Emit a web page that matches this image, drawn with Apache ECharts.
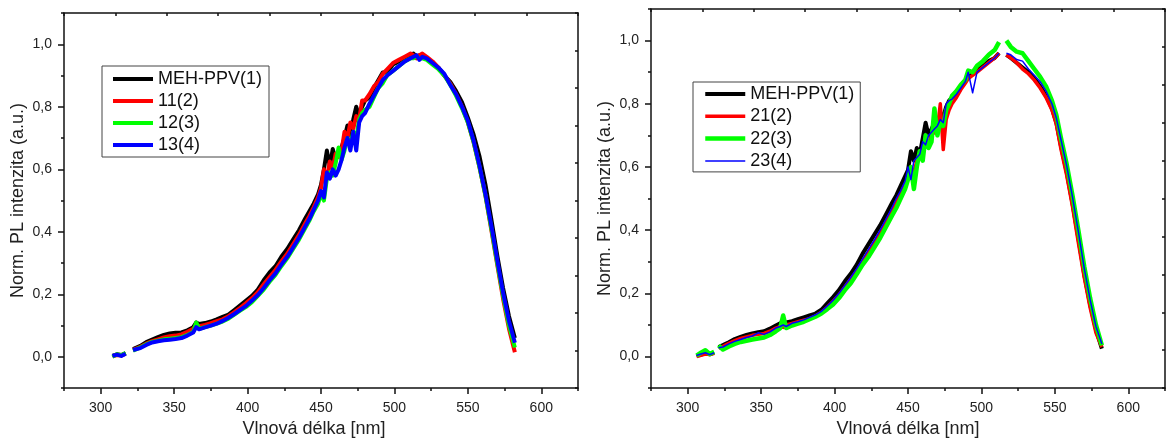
<!DOCTYPE html>
<html>
<head>
<meta charset="utf-8">
<script src="https://cdn.jsdelivr.net/npm/echarts@6/dist/echarts.min.js"></script>
<style>
html,body{margin:0;padding:0;background:#fff;}
#c{width:1168px;height:443px;}
</style>
</head>
<body>
<div id="c"></div>
<script>
// ---------- Left panel ----------
const L_WL = [
  308, 311, 314, 317, 319,
  322, 327, 331, 335, 339, 343, 347, 351, 355, 359,
  363, 365, 367, 371, 375, 379, 383, 387, 391, 395, 399,
  403, 407, 411, 415, 419, 423, 427, 431, 435, 439,
  442, 445, 448, 450, 452, 454, 456, 458, 460, 462,
  464, 466, 468, 470, 472, 474, 476, 478, 480,
  483, 486, 489, 492, 495, 499, 503, 507, 511,
  513, 515, 517, 519, 522, 526, 530, 534, 538,
  542, 546, 550, 554, 558, 562, 566, 570, 574, 578, 582
];
const L_MEH = [
  0.003, 0.008, 0.006, 0.012, null,
  0.025, 0.035, 0.047, 0.055, 0.063, 0.07, 0.075, 0.077, 0.078, 0.085,
  0.095, 0.11, 0.105, 0.108, 0.113, 0.12, 0.128, 0.135, 0.15, 0.165, 0.18,
  0.195, 0.215, 0.245, 0.27, 0.29, 0.32, 0.345, 0.375, 0.405, 0.44,
  0.465, 0.49, 0.52, 0.55, 0.6, 0.66, 0.61, 0.665, 0.63, 0.65,
  0.67, 0.7, 0.74, 0.71, 0.76, 0.8, 0.77, 0.8, 0.82,
  0.83, 0.86, 0.885, 0.91, 0.91, 0.935, 0.945, 0.955, 0.965,
  0.97, 0.96, 0.965, 0.963, 0.955, 0.94, 0.925, 0.9, 0.88,
  0.85, 0.815, 0.765, 0.71, 0.64, 0.55, 0.44, 0.325, 0.22, 0.13, 0.06
];
const L_11 = [
  0.002, 0.006, 0.004, 0.01, null,
  0.022, 0.032, 0.042, 0.05, 0.056, 0.062, 0.066, 0.068, 0.072, 0.08,
  0.09, 0.1, 0.098, 0.102, 0.108, 0.114, 0.12, 0.13, 0.143, 0.157, 0.172,
  0.188, 0.207, 0.232, 0.255, 0.278, 0.305, 0.33, 0.36, 0.39, 0.425,
  0.45, 0.478, 0.51, 0.54, 0.6, 0.57, 0.625, 0.6, 0.65, 0.64,
  0.66, 0.72, 0.7, 0.75, 0.73, 0.77, 0.76, 0.82, 0.82,
  0.84, 0.865, 0.88, 0.905, 0.92, 0.94, 0.95, 0.96, 0.97,
  0.965, 0.955, 0.965, 0.97, 0.96, 0.945, 0.925, 0.9, 0.875,
  0.84, 0.8, 0.75, 0.685, 0.605, 0.515, 0.405, 0.295, 0.185, 0.09, 0.015
];
const L_12 = [
  0.0, 0.008, 0.005, 0.012, null,
  0.02, 0.03, 0.04, 0.048, 0.052, 0.056, 0.058, 0.06, 0.063, 0.07,
  0.08, 0.11, 0.09, 0.095, 0.1, 0.106, 0.113, 0.122, 0.135, 0.148, 0.16,
  0.175, 0.195, 0.215, 0.24, 0.262, 0.29, 0.315, 0.345, 0.375, 0.41,
  0.435, 0.465, 0.49, 0.52, 0.5, 0.57, 0.59, 0.58, 0.62, 0.67,
  0.63, 0.66, 0.7, 0.68, 0.72, 0.7, 0.76, 0.78, 0.79,
  0.8, 0.83, 0.86, 0.875, 0.9, 0.915, 0.93, 0.945, 0.955,
  0.955, 0.96, 0.955, 0.955, 0.95, 0.935, 0.92, 0.9, 0.87,
  0.835, 0.795, 0.75, 0.685, 0.605, 0.515, 0.41, 0.3, 0.195, 0.1, 0.03
];
const L_13 = [
  0.003, 0.007, 0.003, 0.01, null,
  0.022, 0.028, 0.038, 0.046, 0.05, 0.053, 0.055, 0.057, 0.06, 0.068,
  0.078, 0.095, 0.088, 0.094, 0.1, 0.106, 0.115, 0.125, 0.137, 0.15, 0.163,
  0.18, 0.198, 0.22, 0.245, 0.267, 0.295, 0.32, 0.35, 0.38, 0.415,
  0.44, 0.47, 0.5, 0.53, 0.51, 0.59, 0.57, 0.6, 0.58, 0.6,
  0.63, 0.67, 0.7, 0.66, 0.72, 0.66, 0.75, 0.77, 0.78,
  0.81, 0.835, 0.86, 0.885, 0.9, 0.915, 0.93, 0.945, 0.955,
  0.96, 0.965, 0.95, 0.96, 0.955, 0.94, 0.925, 0.905, 0.87,
  0.84, 0.8, 0.755, 0.69, 0.61, 0.52, 0.42, 0.31, 0.205, 0.115, 0.045
];

// ---------- Right panel ----------
const R_WL = [
  306, 309, 312, 315, 318, 319.5,
  321, 324, 328, 332, 336, 340, 344, 348, 352, 356, 360,
  363, 365, 367, 371, 375, 379, 383, 387, 391, 395, 399,
  403, 407, 411, 415, 419, 423, 427, 431, 435, 439,
  442, 445, 448, 450, 452, 454, 456, 458, 460, 462,
  464, 466, 468, 470, 472, 474, 476, 478, 480,
  483, 486, 489, 491, 494, 497, 501, 505, 509, 512, 515,
  517, 520, 524, 528, 532, 536, 540, 544, 548,
  551, 554, 558, 562, 566, 570, 574, 578, 582
];
const R_MEH = [
  0.002, 0.006, 0.01, 0.007, 0.012, null,
  0.03, 0.036, 0.045, 0.055, 0.062, 0.068, 0.073, 0.077, 0.08, 0.088, 0.098,
  0.105, 0.1, 0.108, 0.112, 0.118, 0.124, 0.13, 0.136, 0.148, 0.168, 0.188,
  0.21, 0.238, 0.262, 0.29, 0.325, 0.355, 0.385, 0.415, 0.45, 0.485,
  0.51, 0.54, 0.57, 0.59, 0.65, 0.62, 0.66, 0.64, 0.69, 0.74,
  0.7, 0.72, 0.74, 0.72, 0.77, 0.76, 0.79, 0.81, 0.82,
  0.835, 0.855, 0.875, 0.885, 0.895, 0.905, 0.92, 0.935, 0.945, 0.96, null,
  0.955, 0.945, 0.93, 0.915, 0.9, 0.88, 0.855, 0.825, 0.785,
  0.74, 0.67, 0.585, 0.485, 0.375, 0.26, 0.165, 0.085, 0.025
];
const R_21 = [
  0.0, 0.004, 0.008, 0.006, 0.01, null,
  0.027, 0.032, 0.042, 0.05, 0.057, 0.062, 0.067, 0.07, 0.073, 0.08, 0.09,
  0.095, 0.092, 0.1, 0.105, 0.11, 0.115, 0.12, 0.128, 0.14, 0.156, 0.175,
  0.195, 0.22, 0.245, 0.27, 0.3, 0.33, 0.36, 0.39, 0.425, 0.46,
  0.485, 0.515, 0.545, 0.56, 0.6, 0.58, 0.62, 0.63, 0.66, 0.68,
  0.67, 0.7, 0.71, 0.72, 0.8, 0.655, 0.75, 0.78, 0.8,
  0.82, 0.845, 0.865, 0.88, 0.89, 0.9, 0.915, 0.93, 0.945, 0.96, null,
  0.955, 0.945, 0.93, 0.91, 0.895, 0.875, 0.85, 0.82, 0.78,
  0.735, 0.66, 0.575, 0.475, 0.36, 0.25, 0.155, 0.075, 0.03
];
const R_22 = [
  0.003, 0.012, 0.02, 0.008, 0.015, null,
  0.035, 0.022, 0.032, 0.04, 0.046, 0.05, 0.054, 0.057, 0.06, 0.068, 0.08,
  0.09, 0.13, 0.09, 0.098, 0.104, 0.11, 0.118, 0.126, 0.136, 0.15, 0.165,
  0.185, 0.21, 0.232, 0.26, 0.29, 0.315, 0.345, 0.375, 0.41, 0.445,
  0.47, 0.5, 0.53, 0.56, 0.6, 0.53, 0.6, 0.65, 0.62, 0.7,
  0.66, 0.68, 0.785, 0.7, 0.74, 0.73, 0.78, 0.8, 0.825,
  0.84, 0.86, 0.875, 0.905, 0.9, 0.92, 0.935, 0.955, 0.97, 0.995, null,
  1.0, 0.98, 0.965, 0.96, 0.935, 0.91, 0.885, 0.855, 0.81,
  0.765, 0.695, 0.61, 0.51, 0.4, 0.285, 0.185, 0.1, 0.035
];
const R_23 = [
  0.003, 0.008, 0.012, 0.006, 0.012, null,
  0.028, 0.03, 0.04, 0.048, 0.054, 0.06, 0.065, 0.075, 0.07, 0.078, 0.09,
  0.095, 0.1, 0.095, 0.105, 0.11, 0.116, 0.124, 0.132, 0.143, 0.16, 0.178,
  0.2, 0.225, 0.25, 0.278, 0.308, 0.338, 0.368, 0.4, 0.435, 0.47,
  0.5, 0.525, 0.555, 0.6, 0.56, 0.62, 0.63, 0.64, 0.68, 0.67,
  0.7, 0.71, 0.72, 0.73, 0.75, 0.74, 0.8, 0.81, 0.815,
  0.83, 0.85, 0.87, 0.9, 0.835, 0.9, 0.915, 0.93, 0.945, 0.96, null,
  0.96, 0.955, 0.94, 0.935, 0.91, 0.89, 0.87, 0.84, 0.8,
  0.755, 0.69, 0.605, 0.505, 0.395, 0.28, 0.18, 0.095, 0.04
];

const X_MAJOR = [300, 350, 400, 450, 500, 550, 600];
const Y_MAJOR = [0, 0.2, 0.4, 0.6, 0.8, 1.0];
const LEFT_NAMES = ['MEH-PPV(1)', '11(2)', '12(3)', '13(4)'];
const RIGHT_NAMES = ['MEH-PPV(1)', '21(2)', '22(3)', '23(4)'];
const COLORS = ['#000000', '#ff0000', '#00ff00', '#0000ff'];

const FONT = '"Liberation Sans", Arial, sans-serif';
const AX = '#111';

function pairs(wl, vals) {
  return wl.map((x, i) => [x, vals[i] === null ? '-' : vals[i]]);
}

function xAxes(grid, nameShift) {
  return [
    { gridIndex: grid, type: 'value', position: 'bottom', min: 275, max: 625, interval: 25,
      axisLine: { show: true, onZero: false, lineStyle: { color: AX, width: 1.5 } },
      axisTick: { show: true, length: 3, lineStyle: { color: AX, width: 1.5 } },
      splitLine: { show: false },
      axisLabel: { show: true, margin: 13, fontSize: 14, color: '#222', fontFamily: FONT,
        formatter: v => (Math.round(v) % 50 === 0 ? String(Math.round(v)) : '') },
      name: 'Vlnová délka [nm]', nameLocation: 'middle', nameGap: 30,
      nameTextStyle: { fontSize: 18, color: '#222', fontFamily: FONT, padding: [0, nameShift, 0, 0] } },
    { gridIndex: grid, type: 'value', position: 'bottom', min: 275, max: 625,
      axisLine: { show: false, onZero: false },
      axisTick: { show: true, length: 6, customValues: X_MAJOR, lineStyle: { color: AX, width: 1.5 } },
      splitLine: { show: false }, axisLabel: { show: false } },
    { gridIndex: grid, type: 'value', position: 'top', min: 0, max: 10, interval: 1,
      axisLine: { show: true, onZero: false, lineStyle: { color: AX, width: 1.5 } },
      axisTick: { show: true, inside: true, length: 3, lineStyle: { color: AX, width: 1.5 } },
      splitLine: { show: false }, axisLabel: { show: false } }
  ];
}

function yAxes(grid) {
  return [
    { gridIndex: grid, type: 'value', position: 'left', min: -0.1, max: 1.1, interval: 0.1,
      axisLine: { show: true, onZero: false, lineStyle: { color: AX, width: 1.5 } },
      axisTick: { show: true, length: 3, lineStyle: { color: AX, width: 1.5 } },
      splitLine: { show: false },
      axisLabel: { show: true, margin: 12, fontSize: 14, color: '#222', fontFamily: FONT,
        formatter: v => { const k = Math.round(v * 10); if (k < 0 || k % 2 !== 0) return ''; return (k / 10).toFixed(1).replace('.', ','); } },
      name: 'Norm. PL intenzita (a.u.)', nameLocation: 'middle', nameGap: 37,
      nameTextStyle: { fontSize: 18, color: '#222', fontFamily: FONT } },
    { gridIndex: grid, type: 'value', position: 'left', min: -0.1, max: 1.1,
      axisLine: { show: false, onZero: false },
      axisTick: { show: true, length: 6, customValues: Y_MAJOR, lineStyle: { color: AX, width: 1.5 } },
      splitLine: { show: false }, axisLabel: { show: false } },
    { gridIndex: grid, type: 'value', position: 'right', min: 0, max: 10, interval: 1,
      axisLine: { show: true, onZero: false, lineStyle: { color: AX, width: 1.5 } },
      axisTick: { show: true, inside: true, length: 3, lineStyle: { color: AX, width: 1.5 } },
      splitLine: { show: false }, axisLabel: { show: false } }
  ];
}

function mkSeries(names, wl, arrs, widths, xi, yi) {
  return names.map((n, i) => ({
    name: n, type: 'line', xAxisIndex: xi, yAxisIndex: yi,
    data: pairs(wl, arrs[i]), symbol: 'none', showSymbol: false,
    color: COLORS[i],
    lineStyle: { color: COLORS[i], width: widths[i], join: 'round' },
    z: 2 + i, animation: false
  }));
}

const legendCommon = {
  orient: 'vertical', itemWidth: 40, itemHeight: 14,
  borderColor: '#444', borderWidth: 1,
  itemStyle: { opacity: 0 },
  lineStyle: { width: 'inherit' },
  textStyle: { fontSize: 18, color: '#111', fontFamily: FONT, lineHeight: 18 }
};

const chart = echarts.init(document.getElementById('c'), null, { renderer: 'canvas' });
chart.setOption({
  animation: false,
  backgroundColor: '#fff',
  textStyle: { fontFamily: FONT },
  grid: [
    { left: 64, top: 13, width: 514, height: 382 },
    { left: 651, top: 9, width: 514, height: 384 }
  ],
  xAxis: [].concat(xAxes(0, 14), xAxes(1, 0)),
  yAxis: [].concat(yAxes(0), yAxes(1)),
  legend: [
    Object.assign({}, legendCommon, { data: LEFT_NAMES, left: 102, top: 66, itemGap: 4,
      padding: [4, 7, 3, 9] }),
    Object.assign({}, legendCommon, { data: RIGHT_NAMES, left: 693, top: 82, itemGap: 4.3,
      padding: [3, 6, 2, 10] })
  ],
  series: [].concat(
    mkSeries(LEFT_NAMES, L_WL, [L_MEH, L_11, L_12, L_13], [4, 4, 4, 4], 0, 0),
    mkSeries(RIGHT_NAMES, R_WL, [R_MEH, R_21, R_22, R_23], [4, 3.5, 4.5, 1.5], 3, 3)
  )
});
</script>
</body>
</html>
